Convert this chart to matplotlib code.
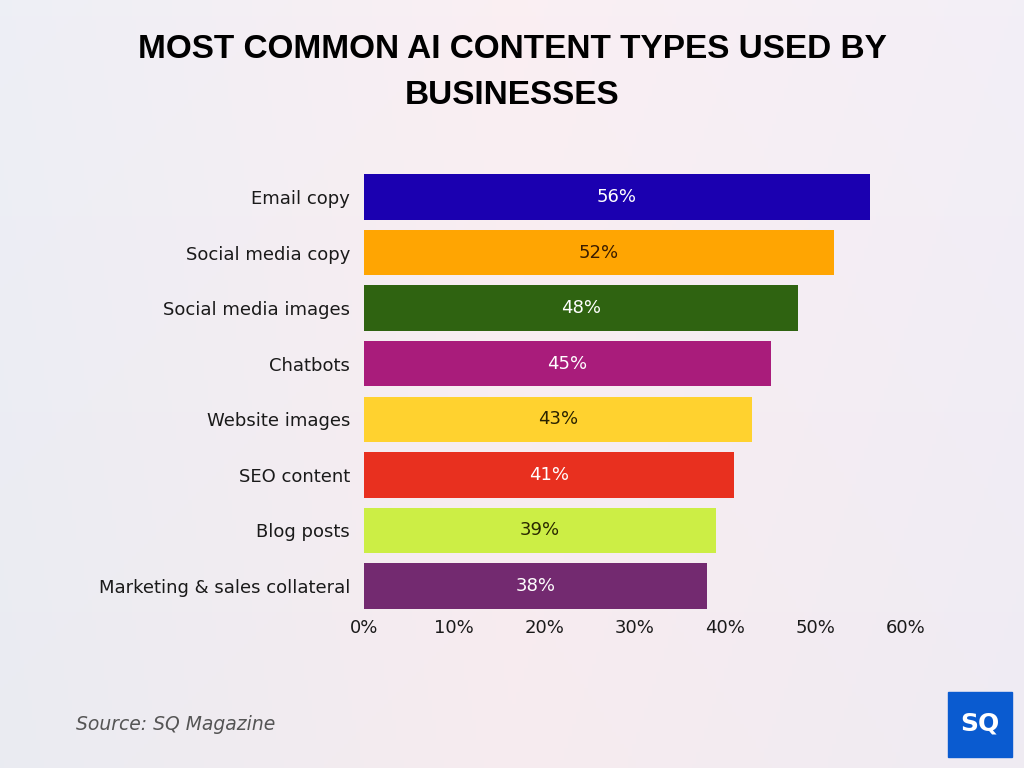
import numpy as np
import matplotlib

matplotlib.use("Agg")
import matplotlib.pyplot as plt
from matplotlib.patches import Rectangle

categories = [
    "Email copy",
    "Social media copy",
    "Social media images",
    "Chatbots",
    "Website images",
    "SEO content",
    "Blog posts",
    "Marketing & sales collateral",
]
values = [56, 52, 48, 45, 43, 41, 39, 38]
colors = ["#1b00b0", "#ffa502", "#2f6311", "#a91c7b", "#ffd22f", "#e8301f", "#ccee45", "#732a70"]
label_colors = ["white", "#3a1c00", "white", "white", "#2a2200", "white", "#2a2a00", "white"]
xticks = [0, 10, 20, 30, 40, 50, 60]

fig = plt.figure(figsize=(10.24, 7.68), dpi=100)

# soft background gradient
bg = fig.add_axes([0, 0, 1, 1], zorder=-10)
xx = np.linspace(0, 1, 256)
yy = np.linspace(0, 1, 192)
X, Y = np.meshgrid(xx, yy)
c_left = np.array([0.925, 0.930, 0.955])
c_mid = np.array([0.975, 0.930, 0.945])
c_right = np.array([0.945, 0.930, 0.960])
w = X[..., None]
grad = np.where(w < 0.5, c_left + (c_mid - c_left) * (w / 0.5), c_mid + (c_right - c_mid) * ((w - 0.5) / 0.5))
grad = grad + 0.015 * (Y[..., None] - 0.5)
bg.imshow(np.clip(grad, 0, 1), aspect="auto", extent=[0, 1, 0, 1], origin="lower")
bg.axis("off")

ax = fig.add_axes([364 / 1024, 1 - 613.8 / 768, 542 / 1024, (613.8 - 169.2) / 768])
ax.patch.set_alpha(0)
y = np.arange(len(categories))
ax.barh(y, values, height=0.82, color=colors)
for yi, v, lc in zip(y, values, label_colors):
    ax.text(v / 2, yi, f"{v}%", ha="center", va="center", fontsize=13, color=lc)

ax.set_xlim(0, 60)
ax.set_ylim(len(categories) - 0.5, -0.5)
ax.set_yticks(y)
ax.set_yticklabels(categories, fontsize=13, color="#1a1a1a", va="center_baseline")
ax.set_xticks(xticks)
ax.set_xticklabels([f"{t}%" for t in xticks], fontsize=13, color="#1a1a1a")
ax.tick_params(axis="y", length=0, pad=10)
ax.tick_params(axis="x", length=0, pad=4)
for s in ax.spines.values():
    s.set_visible(False)

fig.text(0.5, 1 - 50 / 768, "MOST COMMON AI CONTENT TYPES USED BY", ha="center", va="center",
         fontsize=24, fontweight="bold", family="Liberation Sans", color="black")
fig.text(0.5, 1 - 96 / 768, "BUSINESSES", ha="center", va="center",
         fontsize=24, fontweight="bold", family="Liberation Sans", color="black")

fig.text(76 / 1024, 1 - 725 / 768, "Source: SQ Magazine", ha="left", va="center",
         fontsize=13.5, style="italic", color="#555555")

# logo
fig.patches.append(Rectangle((948 / 1024, 1 - 757 / 768), 64 / 1024, 65 / 768,
                             transform=fig.transFigure, color="#0a5bd0", zorder=5))
fig.text(980 / 1024, 1 - 724 / 768, "SQ", ha="center", va="center", fontsize=18,
         fontweight="bold", color="white", zorder=6)

fig.savefig("out.png", dpi=100)
